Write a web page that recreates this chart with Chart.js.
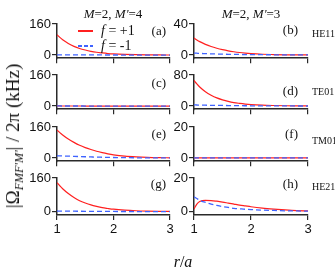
<!DOCTYPE html>
<html>
<head>
<meta charset="utf-8">
<script src="https://cdn.jsdelivr.net/npm/chart.js@4"></script>
<style>
body { margin: 0; width: 335px; height: 271px; background: #fff; position: relative; overflow: hidden; font-family: "Liberation Serif", serif; color: #111; }
canvas { position: absolute; }
.t { position: absolute; white-space: nowrap; line-height: 1; font-size: 13px; }
.c { transform: translate(-50%, -50%); }
.r { transform: translate(-100%, -50%); }
.l { transform: translate(0, -50%); }
.sw { position: absolute; height: 2px; z-index: 5; }
</style>
</head>
<body>
<script>
// radius r/a sample points
const rValues = [1, 1.05, 1.1, 1.2, 1.3, 1.4, 1.5, 1.6, 1.7, 1.8, 1.9, 2.0, 2.2, 2.4, 2.6, 2.8, 3.0];
const xTicks = [1, 2, 3];

// panel ids, top of y scale per panel
const panelIds = ['a', 'b', 'c', 'd', 'e', 'f', 'g', 'h'];
const panelMax = [160, 40, 160, 80, 160, 20, 160, 20];
const modeNames = ['HE11', 'TE01', 'TM01', 'HE21'];
const colTitles = ["<i>M</i>=2, <i>M'</i>=4", "<i>M</i>=2, <i>M'</i>=3"];

// f = +1 (red)
const redA = [105, 91, 79, 60, 45, 34, 26, 19.5, 14.5, 11, 8, 6, 3.5, 2, 1.2, 0.7, 0.4];
const redB = [22, 19.5, 17.3, 13.8, 11, 8.8, 7, 5.5, 4.3, 3.3, 2.5, 1.9, 1.1, 0.7, 0.4, 0.3, 0.2];
const redC = [0.6, 0.6, 0.5, 0.5, 0.4, 0.4, 0.3, 0.3, 0.3, 0.2, 0.2, 0.2, 0.1, 0.1, 0.1, 0.1, 0.1];
const redD = [66, 57, 49, 37, 28, 21, 16, 12, 9, 7, 5.3, 4, 2.4, 1.5, 0.9, 0.6, 0.4];
const redE = [145, 131, 119, 98, 81, 66, 54, 44, 35, 28, 22, 17, 10, 6, 3.5, 2.2, 1.5];
const redF = [0.2, 0.2, 0.2, 0.2, 0.2, 0.1, 0.1, 0.1, 0.1, 0.1, 0.1, 0.1, 0.1, 0.1, 0.1, 0.1, 0.1];
const redG = [138, 123, 109, 86, 67, 52, 41, 32, 25, 19, 15, 11.5, 7, 4.2, 2.6, 1.6, 1];
const redH = [1.5, 4.5, 6.0, 6.7, 6.6, 6.2, 5.7, 5.1, 4.5, 3.9, 3.4, 2.9, 2.1, 1.5, 1.0, 0.6, 0.4];

// f = -1 (blue dashed)
const blueA = [1.5, 1.4, 1.3, 1.2, 1.1, 1, 0.9, 0.8, 0.7, 0.6, 0.5, 0.4, 0.3, 0.2, 0.1, 0.1, 0];
const blueB = [2.6, 2.4, 2.2, 1.9, 1.6, 1.4, 1.2, 1.0, 0.9, 0.8, 0.7, 0.6, 0.5, 0.4, 0.3, 0.3, 0.2];
const blueC = [0.6, 0.6, 0.5, 0.5, 0.4, 0.4, 0.3, 0.3, 0.3, 0.2, 0.2, 0.2, 0.1, 0.1, 0.1, 0.1, 0.1];
const blueD = [3, 2.8, 2.6, 2.3, 2.0, 1.8, 1.6, 1.4, 1.2, 1.0, 0.9, 0.8, 0.6, 0.5, 0.4, 0.3, 0.2];
const blueE = [12, 11.5, 11, 10, 9, 8, 7, 6, 5, 4.3, 3.6, 3, 2.2, 1.6, 1.2, 0.9, 0.7];
const blueF = [0.2, 0.2, 0.2, 0.2, 0.2, 0.1, 0.1, 0.1, 0.1, 0.1, 0.1, 0.1, 0.1, 0.1, 0.1, 0.1, 0.1];
const blueG = [3, 2.8, 2.6, 2.3, 2, 1.8, 1.6, 1.4, 1.2, 1.0, 0.9, 0.8, 0.6, 0.5, 0.4, 0.3, 0.2];
const blueH = [8.8, 7.8, 6.8, 5.5, 4.5, 3.7, 3.0, 2.5, 2.0, 1.7, 1.4, 1.2, 0.9, 0.7, 0.5, 0.4, 0.3];

const redSeries = [redA, redB, redC, redD, redE, redF, redG, redH];
const blueSeries = [blueA, blueB, blueC, blueD, blueE, blueF, blueG, blueH];

// layout
const colLeft = [0, 168];
const axisW = [57, 26];
const plotW = [113, 114];
const rowTop = [24, 75, 127, 178];
const plotH = 37;
const RED = '#ff2020';
const BLUE = '#3f63ff';
const AXIS = '#2a2a2a';

function addText(html, x, y, cls, size, style) {
    const d = document.createElement('div');
    d.className = 't ' + cls;
    d.style.left = x + 'px';
    d.style.top = y + 'px';
    d.style.fontSize = size + 'px';
    if (style) d.style.cssText += style;
    d.innerHTML = html;
    document.body.appendChild(d);
    return d;
}

function makePanel(k) {
    const row = Math.floor(k / 2), col = k % 2;
    const bottom = row === 3;
    const max = panelMax[k];
    const cv = document.createElement('canvas');
    const w = axisW[col] + plotW[col] + 6;
    const h = 10 + plotH + (bottom ? 22 : 6);
    cv.width = w;
    cv.height = h;
    cv.style.left = colLeft[col] + 'px';
    cv.style.top = (rowTop[row] - 10) + 'px';
    document.body.appendChild(cv);

    const toPts = arr => rValues.map((r, i) => ({ x: r, y: arr[i] }));

    new Chart(cv.getContext('2d'), {
        type: 'line',
        data: {
            datasets: [{
                data: toPts(blueSeries[k]),
                borderColor: BLUE,
                borderDash: [5, 3],
                borderWidth: 1.3,
                pointRadius: 0,
                cubicInterpolationMode: 'monotone'
            }, {
                data: toPts(redSeries[k]),
                borderColor: RED,
                borderWidth: 1.2,
                pointRadius: 0,
                cubicInterpolationMode: 'monotone'
            }]
        },
        options: {
            responsive: false,
            animation: false,
            layout: { padding: { top: 10, right: 6, left: 0, bottom: 0 } },
            plugins: { legend: { display: false }, tooltip: { enabled: false } },
            scales: {
                x: {
                    type: 'linear',
                    min: 1,
                    max: 3,
                    afterBuildTicks: s => { s.ticks = xTicks.map(v => ({ value: v })); },
                    afterFit: s => { s.height = bottom ? 22 : 6; },
                    grid: { drawOnChartArea: false, drawTicks: true, tickLength: 5, color: AXIS, lineWidth: 1.2 },
                    border: { color: AXIS, width: 1.5 },
                    ticks: {
                        display: bottom,
                        padding: 2,
                        maxRotation: 0,
                        color: '#111',
                        font: { family: 'Liberation Sans', size: 13 }
                    }
                },
                y: {
                    min: -max * 0.1,
                    max: max,
                    afterBuildTicks: s => { s.ticks = [0, max / 2, max].map(v => ({ value: v })); },
                    afterFit: s => { s.width = axisW[col]; },
                    grid: { drawOnChartArea: false, drawTicks: true, tickLength: 5, color: AXIS, lineWidth: 1.2 },
                    border: { color: AXIS, width: 1.5 },
                    ticks: {
                        padding: 1,
                        color: '#111',
                        font: { family: 'Liberation Sans', size: 13 }
                    }
                }
            }
        }
    });
}

for (let k = 0; k < 8; k++) makePanel(k);

// column titles
addText(colTitles[0], 113, 13, 'c', 13);
addText(colTitles[1], 251, 13, 'c', 13);

// legend inside (a): red solid swatch, blue dashed swatch (three short dashes)
function swatch(x, y, w, color) {
    const s = document.createElement('div');
    s.className = 'sw';
    s.style.left = x + 'px';
    s.style.top = y + 'px';
    s.style.width = w + 'px';
    s.style.backgroundColor = color;
    document.body.appendChild(s);
}
swatch(78, 30, 15, RED);
swatch(78, 45, 4, BLUE);
swatch(84, 45, 4, BLUE);
swatch(90, 45, 3, BLUE);
addText('<i>f</i> = +1', 101, 31, 'l', 14);
addText('<i>f</i> = -1', 101, 46, 'l', 14);

// panel letters
const letterPos = [[166, 30], [298, 29], [166, 82], [298, 90], [166, 133], [298, 133], [166, 183], [298, 183]];
panelIds.forEach((id, k) => addText('(' + id + ')', letterPos[k][0], letterPos[k][1], 'r', 13));

// mode names
const modeY = [34, 92, 141, 187];
modeNames.forEach((m, i) => addText(m, 312, modeY[i], 'l', 10));

// axis titles
addText('|&Omega;<sub style="font-size:12px;font-style:italic;vertical-align:-4px">FMF\'M\'</sub>| / 2&pi; (kHz)', 14, 136, 'c', 19, 'transform:translate(-50%,-50%) rotate(-90deg);');
addText('<i>r</i>/<i>a</i>', 183, 262, 'c', 16);
</script>
</body>
</html>
